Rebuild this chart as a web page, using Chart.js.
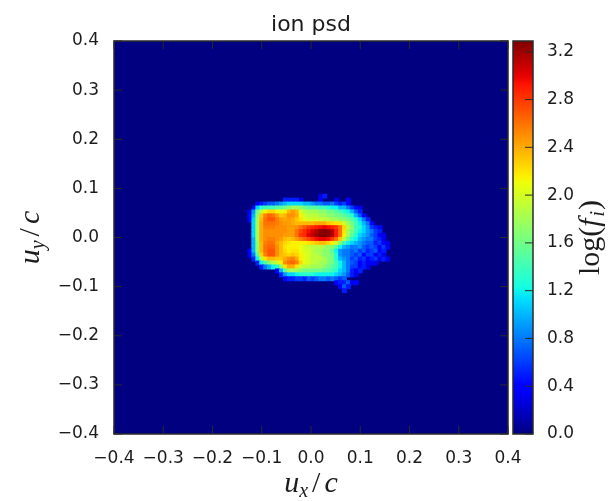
<!DOCTYPE html>
<html>
<head>
<meta charset="utf-8">
<title>ion psd</title>
<script src="https://cdn.jsdelivr.net/npm/chart.js@4"></script>
<style>
  body { margin: 0; background: #fff; overflow: hidden; }
  /* the reference is a slightly soft upscaled image */
  canvas { filter: blur(0.5px); }
  #psdChart { position: absolute; left: 0; top: 0; }
  #barChart { position: absolute; left: 500px; top: 0; }
</style>
</head>
<body>
<canvas id="psdChart" width="613" height="501"></canvas>
<canvas id="barChart" width="113" height="501"></canvas>
<script>
// histogram is 100 x 100 bins over -0.4..0.4, only the filled part is listed
const binCount = 100;
const axisMin = -0.4;
const axisMax = 0.4;
const logMax = 3.29;
const firstRow = 39; // bin row (from the top) of the first entry in rowStarts
const barTicks = [0, 0.4, 0.8, 1.2, 1.6, 2.0, 2.4, 2.8, 3.2];

// first filled column of every row
const rowStarts = [52, 43, 36, 35, 34, 34, 34, 35, 35, 35, 35, 35, 35, 35, 34, 34, 35, 36, 37, 41, 42, 43, 56, 57, 58];
const rowValues = [
  [0.3, 0.5],
  [0.5, 0.5, 0.5, 0.5, 0.3, 0, 0, 0, 0, 0.4, 0, 0, 0, 0.3, 0, 0, 0.4],
  [0.4, 0.5, 0.6, 0.7, 0.7, 0.8, 0.9, 1.0, 1.1, 1.1, 1.1, 1.1, 1.0, 1.0, 0.9, 0.8, 0.8, 0.7, 0.7, 0.8, 0.6, 0.5, 0.6, 0.4],
  [0.4, 1.1, 1.3, 1.4, 1.4, 1.4, 1.5, 1.5, 1.6, 1.7, 1.8, 1.8, 1.7, 1.6, 1.5, 1.5, 1.5, 1.4, 1.4, 1.3, 1.2, 1.2, 1.0, 1.0, 0.8, 0.6, 0.4, 0.3],
  [0.3, 0.9, 1.6, 1.9, 2.15, 2.25, 2.25, 2.15, 2.05, 2.15, 2.35, 2.45, 2.35, 2.0, 1.9, 1.8, 1.8, 1.8, 1.7, 1.7, 1.6, 1.6, 1.5, 1.4, 1.3, 1.2, 1.0, 0.7, 0.5],
  [0.4, 1.0, 1.7, 2.3, 2.55, 2.65, 2.6, 2.45, 2.3, 2.35, 2.5, 2.5, 2.4, 2.15, 1.95, 1.9, 1.9, 1.9, 1.8, 1.8, 1.7, 1.7, 1.6, 1.6, 1.5, 1.4, 1.3, 1.0, 0.7, 0.4],
  [0.4, 1.1, 1.8, 2.35, 2.6, 2.7, 2.7, 2.55, 2.45, 2.4, 2.45, 2.4, 2.3, 2.2, 2.05, 2.0, 2.0, 2.0, 1.95, 1.9, 1.9, 1.8, 1.8, 1.7, 1.7, 1.6, 1.5, 1.3, 1.1, 0.8, 0.5],
  [1.1, 1.8, 2.4, 2.6, 2.6, 2.6, 2.55, 2.5, 2.45, 2.45, 2.4, 2.35, 2.35, 2.35, 2.35, 2.35, 2.4, 2.4, 2.4, 2.3, 2.25, 2.2, 2.2, 1.95, 1.8, 1.6, 1.4, 1.2, 1.0, 0.8, 0.4],
  [1.1, 1.8, 2.4, 2.55, 2.55, 2.55, 2.5, 2.5, 2.5, 2.45, 2.45, 2.5, 2.6, 2.7, 2.8, 2.85, 2.9, 2.95, 3.0, 2.95, 2.9, 2.8, 2.6, 2.25, 1.9, 1.7, 1.4, 1.3, 1.1, 0.9, 0.6, 0.5, 0.4],
  [1.1, 1.8, 2.4, 2.5, 2.5, 2.5, 2.5, 2.5, 2.5, 2.45, 2.45, 2.6, 2.75, 2.85, 2.95, 3.05, 3.15, 3.25, 3.29, 3.25, 3.15, 2.9, 2.6, 2.2, 1.8, 1.6, 1.4, 1.2, 1.1, 0.9, 0.8, 0.6, 0.5],
  [1.1, 1.8, 2.4, 2.5, 2.5, 2.5, 2.5, 2.5, 2.45, 2.45, 2.45, 2.6, 2.8, 2.85, 3.0, 3.1, 3.2, 3.28, 3.29, 3.25, 3.15, 2.9, 2.6, 2.15, 1.8, 1.5, 1.3, 1.1, 1.0, 0.9, 0.7, 0.6, 0.4, 0.3],
  [1.0, 1.8, 2.4, 2.5, 2.55, 2.55, 2.5, 2.45, 2.35, 2.3, 2.35, 2.45, 2.55, 2.65, 2.75, 2.85, 2.95, 3.0, 3.0, 2.95, 2.8, 2.6, 2.3, 1.9, 1.6, 1.3, 1.2, 1.0, 0.9, 0.8, 0.8, 0.6, 0.5, 0.3],
  [1.0, 1.7, 2.35, 2.55, 2.6, 2.6, 2.45, 2.35, 2.25, 2.2, 2.15, 2.15, 2.15, 2.15, 2.2, 2.25, 2.3, 2.35, 2.35, 2.25, 2.15, 2.0, 1.7, 1.4, 1.2, 1.1, 1.0, 0.9, 0.8, 0.7, 0.7, 0.5, 0.6, 0.4, 0.3],
  [1.0, 1.7, 2.35, 2.6, 2.65, 2.65, 2.5, 2.35, 2.2, 2.15, 2.15, 2.15, 2.1, 2.0, 1.95, 1.9, 1.85, 1.9, 1.8, 1.7, 1.7, 1.5, 1.2, 1.0, 0.9, 0.8, 0.8, 0.9, 0.7, 0.6, 0.7, 0.6, 0.4, 0.6, 0.3],
  [0.4, 1.0, 1.7, 2.35, 2.6, 2.7, 2.7, 2.5, 2.35, 2.25, 2.15, 2.2, 2.2, 2.1, 2.0, 2.0, 1.9, 1.8, 1.8, 1.7, 1.7, 1.5, 1.2, 0.9, 0.8, 0.8, 0.7, 0.8, 0.6, 0.7, 0.5, 0.6, 0.7, 0.4, 0.5],
  [0.3, 0.8, 1.5, 2.25, 2.55, 2.7, 2.7, 2.5, 2.35, 2.3, 2.25, 2.3, 2.25, 2.15, 2.05, 2.0, 1.9, 1.9, 1.8, 1.7, 1.7, 1.6, 1.3, 0.9, 0.8, 0.8, 0.7, 0.6, 0.7, 0.4, 0.6, 0.6, 0.3, 0.5, 0.3],
  [0.5, 1.2, 1.9, 2.2, 2.35, 2.35, 2.3, 2.3, 2.4, 2.5, 2.55, 2.4, 2.15, 2.05, 2.0, 1.9, 1.9, 1.9, 1.8, 1.7, 1.6, 1.3, 1.0, 0.9, 0.8, 0.6, 0.7, 0.5, 0.6, 0.4, 0.5, 0.6, 0.3, 0.5, 0.3],
  [0.5, 1.2, 1.5, 1.7, 1.85, 1.95, 2.15, 2.5, 2.6, 2.65, 2.55, 2.25, 2.05, 2.0, 1.9, 1.9, 1.8, 1.8, 1.7, 1.6, 1.4, 1.2, 1.0, 0.8, 0.7, 0.6, 0.4, 0.5, 0.3, 0.4, 0.3],
  [0.5, 0.8, 1.0, 1.2, 1.3, 1.7, 2.2, 2.4, 2.4, 2.2, 1.95, 1.9, 1.9, 1.8, 1.8, 1.8, 1.7, 1.6, 1.5, 1.4, 1.2, 1.0, 0.8, 0.6, 0.6, 0.4, 0.5, 0.3],
  [0.4, 1.0, 1.5, 1.8, 1.8, 1.8, 1.7, 1.6, 1.6, 1.6, 1.6, 1.6, 1.5, 1.5, 1.4, 1.3, 1.1, 1.0, 0.8, 0.5, 0.4, 0.5],
  [0.5, 0.9, 1.1, 1.1, 1.2, 1.3, 1.3, 1.3, 1.3, 1.2, 1.2, 1.2, 1.2, 1.2, 1.1, 1.0, 0.9, 0.7, 0.5, 0.3],
  [0.4, 0.5, 0.5, 0.6, 0.6, 0.5, 0.7, 0.6, 0.7, 0.8, 0.8, 0.7, 0.8, 0.7, 0.6, 0.7],
  [0.4, 0.5, 0.5, 0.7, 0.3, 0.4],
  [0.4, 0.7, 0.5],
  [0.5],
];

const textColor = "#1c1c1c";
const frameColor = "#2a2a2a";
const tickFont = { family: "DejaVu Sans", size: 17 };
const navy = "rgb(0,0,128)";

// matplotlib jet colormap
const jetRed = [[0, 0], [0.35, 0], [0.66, 1], [0.89, 1], [1, 0.5]];
const jetGreen = [[0, 0], [0.125, 0], [0.375, 1], [0.64, 1], [0.91, 0], [1, 0]];
const jetBlue = [[0, 0.5], [0.11, 1], [0.34, 1], [0.65, 0], [1, 0]];

function segment(table, t) {
  for (let i = 1; i < table.length; i++) {
    if (t <= table[i][0]) {
      const a = table[i - 1];
      const b = table[i];
      return a[1] + ((b[1] - a[1]) * (t - a[0])) / (b[0] - a[0]);
    }
  }
  return table[table.length - 1][1];
}

function jet(t) {
  t = Math.min(1, Math.max(0, t));
  const r = Math.round(segment(jetRed, t) * 255);
  const g = Math.round(segment(jetGreen, t) * 255);
  const b = Math.round(segment(jetBlue, t) * 255);
  return `rgb(${r},${g},${b})`;
}

function cellPoints() {
  const binSize = (axisMax - axisMin) / binCount;
  let points = [];
  rowValues.forEach((row, r) => {
    row.forEach((value, c) => {
      if (value > 0) {
        points.push({
          x: axisMin + (rowStarts[r] + c + 0.5) * binSize,
          y: axisMax - (firstRow + r + 0.5) * binSize,
          v: value,
        });
      }
    });
  });
  return points;
}

function minusLabel(value) {
  return Number(value).toFixed(1).replace("-", "\u2212");
}

// draws a run of text pieces one after the other, rotated if asked
function drawPieces(ctx, pieces, cx, cy, rotate) {
  ctx.save();
  ctx.translate(cx, cy);
  ctx.rotate(rotate);
  ctx.fillStyle = textColor;
  ctx.textBaseline = "alphabetic";
  ctx.textAlign = "left";
  let total = 0;
  pieces.forEach((p) => {
    ctx.font = p.font;
    total += ctx.measureText(p.text).width + (p.gap || 0);
  });
  let x = -total / 2;
  pieces.forEach((p) => {
    ctx.font = p.font;
    ctx.fillText(p.text, x, p.drop || 0);
    x += ctx.measureText(p.text).width + (p.gap || 0);
  });
  ctx.restore();
}

const mathItalic = 'italic 30px "Liberation Serif"';
const mathSub = 'italic 20px "Liberation Serif"';
const mathRoman = '30px "Liberation Serif"';

// rect point side is radius * sqrt(2), the overlap hides seams between cells
function cellRadius(c) {
  return ((c.chart.scales.x.width / binCount) * 1.25) / Math.SQRT2;
}

const psdFrame = {
  id: "psdFrame",
  afterLayout(chart) {
    // centre the title over the plot, not over the whole canvas
    chart.titleBlock.left = chart.chartArea.left;
    chart.titleBlock.right = chart.chartArea.right;
  },
  beforeDatasetsDraw(chart) {
    const { ctx, chartArea: a } = chart;
    ctx.fillStyle = navy;
    ctx.fillRect(a.left, a.top, a.width, a.height);
  },
  afterDatasetsDraw(chart) {
    const { ctx, chartArea: a, scales } = chart;
    ctx.save();
    ctx.strokeStyle = frameColor;
    ctx.lineWidth = 1;
    ctx.beginPath();
    scales.x.ticks.forEach((t) => {
      const px = scales.x.getPixelForValue(t.value);
      ctx.moveTo(px, a.bottom);
      ctx.lineTo(px, a.bottom - 8);
      ctx.moveTo(px, a.top);
      ctx.lineTo(px, a.top + 8);
    });
    scales.y.ticks.forEach((t) => {
      const py = scales.y.getPixelForValue(t.value);
      ctx.moveTo(a.left, py);
      ctx.lineTo(a.left + 8, py);
      ctx.moveTo(a.right, py);
      ctx.lineTo(a.right - 8, py);
    });
    ctx.stroke();
    ctx.lineWidth = 1.5;
    ctx.strokeRect(a.left, a.top, a.width, a.height);
    ctx.restore();

    drawPieces(
      ctx,
      [
        { text: "u", font: mathItalic },
        { text: "x", font: mathSub, drop: 5, gap: 4 },
        { text: "/", font: mathRoman, gap: 4 },
        { text: "c", font: mathItalic },
      ],
      (a.left + a.right) / 2,
      492,
      0
    );
    drawPieces(
      ctx,
      [
        { text: "u", font: mathItalic },
        { text: "y", font: mathSub, drop: 5, gap: 4 },
        { text: "/", font: mathRoman, gap: 4 },
        { text: "c", font: mathItalic },
      ],
      39,
      (a.top + a.bottom) / 2,
      -Math.PI / 2
    );
  },
};

const barFrame = {
  id: "barFrame",
  afterDatasetsDraw(chart) {
    const { ctx, chartArea: a, scales } = chart;
    ctx.save();
    ctx.strokeStyle = frameColor;
    ctx.lineWidth = 1;
    ctx.beginPath();
    barTicks.forEach((t) => {
      const py = scales.y.getPixelForValue(t);
      ctx.moveTo(a.right, py);
      ctx.lineTo(a.right - 8, py);
    });
    ctx.stroke();
    ctx.lineWidth = 1.5;
    ctx.strokeRect(a.left, a.top, a.width, a.height);
    ctx.restore();

    drawPieces(
      ctx,
      [
        { text: "log(", font: mathRoman },
        { text: "f", font: mathItalic, gap: 2 },
        { text: "i", font: mathSub, drop: 5, gap: 1 },
        { text: ")", font: mathRoman },
      ],
      99,
      (a.top + a.bottom) / 2,
      -Math.PI / 2
    );
  },
};

function barGradient(context) {
  const { ctx, chartArea: a } = context.chart;
  if (!a) return navy;
  const gradient = ctx.createLinearGradient(0, a.bottom, 0, a.top);
  for (let i = 0; i <= 64; i++) {
    gradient.addColorStop(i / 64, jet(i / 64));
  }
  return gradient;
}

new Chart(document.getElementById("psdChart").getContext("2d"), {
  type: "scatter",
  data: {
    datasets: [
      {
        data: cellPoints(),
        pointStyle: "rect",
        borderWidth: 0,
        backgroundColor: (c) => (c.raw ? jet(c.raw.v / logMax) : navy),
        pointRadius: cellRadius,
        pointHoverRadius: cellRadius,
      },
    ],
  },
  options: {
    responsive: false,
    animation: false,
    layout: { padding: { left: 0, right: 105, top: 0, bottom: 0 } },
    plugins: {
      legend: { display: false },
      tooltip: { enabled: false },
      title: {
        display: true,
        text: "ion psd",
        color: textColor,
        font: { family: "DejaVu Sans", size: 22, weight: "normal", lineHeight: 1.2 },
        padding: { top: 12, bottom: 2.6 },
      },
    },
    scales: {
      x: {
        type: "linear",
        min: axisMin,
        max: axisMax,
        afterFit: (scale) => { scale.height = 67; },
        grid: { display: false },
        border: { display: false },
        ticks: {
          stepSize: 0.1,
          padding: 6,
          maxRotation: 0,
          autoSkip: false,
          color: textColor,
          font: tickFont,
          callback: minusLabel,
        },
      },
      y: {
        type: "linear",
        min: axisMin,
        max: axisMax,
        afterFit: (scale) => { scale.width = 114; },
        grid: { display: false },
        border: { display: false },
        ticks: {
          stepSize: 0.1,
          padding: 7,
          autoSkip: false,
          color: textColor,
          font: tickFont,
          callback: minusLabel,
        },
      },
    },
  },
  plugins: [psdFrame],
});

new Chart(document.getElementById("barChart").getContext("2d"), {
  type: "bar",
  data: {
    labels: ["log(f)"],
    datasets: [
      {
        data: [[0, logMax]],
        backgroundColor: barGradient,
        borderWidth: 0,
        barPercentage: 1,
        categoryPercentage: 1,
      },
    ],
  },
  options: {
    responsive: false,
    animation: false,
    layout: { padding: { left: 13, right: 0, top: 41, bottom: 67 } },
    plugins: { legend: { display: false }, tooltip: { enabled: false } },
    scales: {
      x: { display: false },
      y: {
        position: "right",
        min: 0,
        max: logMax,
        afterFit: (scale) => { scale.width = 80; },
        afterBuildTicks: (scale) => {
          scale.ticks = barTicks.map((v) => ({ value: v }));
        },
        grid: { display: false },
        border: { display: false },
        ticks: {
          padding: 6,
          autoSkip: false,
          color: textColor,
          font: tickFont,
          callback: minusLabel,
        },
      },
    },
  },
  plugins: [barFrame],
});
</script>
</body>
</html>
